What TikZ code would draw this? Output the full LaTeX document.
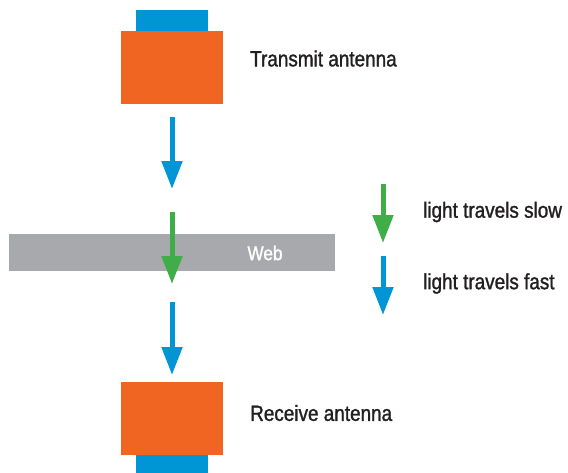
\documentclass[tikz,border=0pt]{standalone}
\usepackage{fontspec}
\setmainfont[FakeStretch=0.86,FakeBold=1.3]{Liberation Sans}
\usetikzlibrary{arrows.meta}
\definecolor{cblue}{RGB}{0,150,214}
\definecolor{corange}{RGB}{241,101,34}
\definecolor{cgreen}{RGB}{63,174,73}
\definecolor{cgray}{RGB}{167,169,172}
\definecolor{ctext}{RGB}{35,31,32}
\tikzset{
  block/.style={fill=#1, draw=none, inner sep=0pt, anchor=north west},
  flow/.style={draw=#1, line width=5pt, -{Triangle[width=20pt,length=28pt]}},
  lbl/.style={anchor=west, inner sep=0pt, text=ctext, font=\fontsize{22}{25}\selectfont},
}
\begin{document}
\begin{tikzpicture}[x=1pt,y=-1pt]
\useasboundingbox (0,0) rectangle (568,472);
% transmit antenna
\node[block=cblue, minimum width=72pt, minimum height=22pt] (txcap) at (136,10) {};
\node[block=corange, minimum width=102pt, minimum height=73pt] (tx) at (121,31) {};
\node[lbl] (txl) at (250,58.5) {Transmit antenna};
% web
\node[block=cgray, minimum width=326pt, minimum height=37pt] (web) at (9,234) {};
\node[text=white, inner sep=0pt, font=\fontsize{20}{23}\selectfont] (webl) at (265,253) {Web};
% receive antenna
\node[block=corange, minimum width=102pt, minimum height=73pt] (rx) at (121,382) {};
\node[block=cblue, minimum width=72pt, minimum height=20pt] (rxcap) at (136,455) {};
\node[lbl] (rxl) at (250,413) {Receive antenna};
% main arrows
\coordinate (a1s) at (172,117);
\coordinate (a1e) at (172,189);
\coordinate (a2s) at (172,212);
\coordinate (a2e) at (172,284);
\coordinate (a3s) at (172,302);
\coordinate (a3e) at (172,375);
\draw[flow=cblue] (a1s) -- (a1e);
\draw[flow=cgreen] (a2s) -- (a2e);
\draw[flow=cblue] (a3s) -- (a3e);
% legend
\coordinate (g1s) at (383,184);
\coordinate (g1e) at (383,243);
\coordinate (g2s) at (383,256);
\coordinate (g2e) at (383,315);
\draw[flow=cgreen] (g1s) -- (g1e);
\draw[flow=cblue] (g2s) -- (g2e);
\node[lbl] (slow) at (423,212) {light travels slow};
\node[lbl] (fast) at (423,283.5) {light travels fast};
\end{tikzpicture}
\end{document}
